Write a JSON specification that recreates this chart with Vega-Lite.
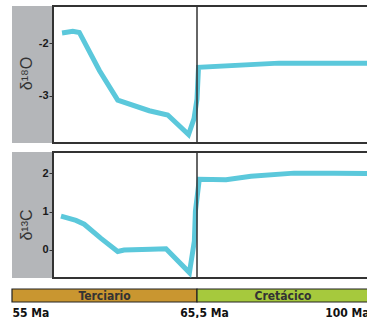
{
  "$schema": "https://vega.github.io/schema/vega-lite/v6.json",
  "padding": {"left": 11, "top": 5, "right": 0, "bottom": 0},
  "background": "white",
  "spacing": 9,
  "config": {
    "view": {"stroke": "#333333", "strokeWidth": 2},
    "axis": {"grid": false, "domain": false, "title": null, "labelFont": "Liberation Sans", "labelFontWeight": "bold", "labelColor": "#1a1a1a", "tickColor": "#333333"}
  },
  "vconcat": [
    {
      "vconcat": [
        {
          "hconcat": [
            {
              "width": 41, "height": 137,
              "view": {"fill": "#b4b6b9"},
              "data": {"values": [{"label": "δ¹⁸O"}]},
              "mark": {"type": "text", "angle": 270, "fontSize": 16, "font": "Liberation Sans", "color": "#333333", "dy": -6, "dx": 1, "clip": true},
              "encoding": {"text": {"field": "label"}}
            },
            {
              "width": 316, "height": 137,
              "layer": [
                {
                  "data": {"values": [
                    {"age": 57.84, "d18O": -1.81},
                    {"age": 58.45, "d18O": -1.78},
                    {"age": 58.82, "d18O": -1.80},
                    {"age": 59.96, "d18O": -2.52},
                    {"age": 61.0, "d18O": -3.08},
                    {"age": 62.79, "d18O": -3.28},
                    {"age": 63.84, "d18O": -3.36},
                    {"age": 65.02, "d18O": -3.73},
                    {"age": 65.33, "d18O": -3.43},
                    {"age": 65.5, "d18O": -3.06},
                    {"age": 65.8, "d18O": -2.46},
                    {"age": 81.95, "d18O": -2.38},
                    {"age": 100, "d18O": -2.38}
                  ]},
                  "mark": {"type": "line", "color": "#5bc8db", "strokeWidth": 5, "clip": true},
                  "encoding": {
                    "x": {"field": "age", "type": "quantitative", "axis": null, "scale": {"domain": [55, 65.5, 100], "range": [-41, 144, 316], "nice": false, "zero": false}},
                    "y": {"field": "d18O", "type": "quantitative", "scale": {"domain": [-3.89, -1.3], "nice": false, "zero": false}, "axis": {"values": [-3, -2], "tickSize": 4, "labelPadding": 1, "labelFontSize": 11, "labelExpr": "datum.value + ''"}}
                  }
                },
                {
                  "data": {"values": [{"boundary": 65.5}]},
                  "mark": {"type": "rule", "color": "#333333", "strokeWidth": 1.5, "clip": true},
                  "encoding": {"x": {"field": "boundary", "type": "quantitative", "axis": null}}
                }
              ]
            }
          ],
          "spacing": 0,
          "bounds": "flush"
        },
        {
          "hconcat": [
            {
              "width": 41, "height": 126,
              "view": {"fill": "#b4b6b9"},
              "data": {"values": [{"label": "δ¹³C"}]},
              "mark": {"type": "text", "angle": 270, "fontSize": 16, "font": "Liberation Sans", "color": "#333333", "dy": -6, "dx": -10, "clip": true},
              "encoding": {"text": {"field": "label"}}
            },
            {
              "width": 316, "height": 126,
              "layer": [
                {
                  "data": {"values": [
                    {"age": 57.78, "d13C": 0.88},
                    {"age": 58.63, "d13C": 0.77},
                    {"age": 59.1, "d13C": 0.67},
                    {"age": 60.05, "d13C": 0.3},
                    {"age": 61.0, "d13C": -0.04},
                    {"age": 61.36, "d13C": 0.0},
                    {"age": 62.89, "d13C": 0.02},
                    {"age": 63.74, "d13C": 0.03},
                    {"age": 65.07, "d13C": -0.59},
                    {"age": 65.35, "d13C": 0.23},
                    {"age": 65.41, "d13C": 1.01},
                    {"age": 65.96, "d13C": 1.84},
                    {"age": 71.32, "d13C": 1.83},
                    {"age": 76.33, "d13C": 1.92},
                    {"age": 84.96, "d13C": 2.0},
                    {"age": 92.98, "d13C": 2.0},
                    {"age": 100, "d13C": 1.99}
                  ]},
                  "mark": {"type": "line", "color": "#5bc8db", "strokeWidth": 5, "clip": true},
                  "encoding": {
                    "x": {"field": "age", "type": "quantitative", "axis": null, "scale": {"domain": [55, 65.5, 100], "range": [-41, 144, 316], "nice": false, "zero": false}},
                    "y": {"field": "d13C", "type": "quantitative", "scale": {"domain": [-0.73, 2.55], "nice": false, "zero": false}, "axis": {"values": [0, 1, 2], "tickSize": 4, "labelPadding": 1, "labelFontSize": 11, "labelExpr": "datum.value + ''"}}
                  }
                },
                {
                  "data": {"values": [{"boundary": 65.5}]},
                  "mark": {"type": "rule", "color": "#333333", "strokeWidth": 1.5, "clip": true},
                  "encoding": {"x": {"field": "boundary", "type": "quantitative", "axis": null}}
                }
              ]
            }
          ],
          "spacing": 0,
          "bounds": "flush"
        }
      ],
      "spacing": 7
    },
    {
      "width": 357, "height": 13,
      "view": {"stroke": null},
      "data": {"values": [
        {"period": "Terciario", "start": 55, "end": 65.5},
        {"period": "Cretácico", "start": 65.5, "end": 100}
      ]},
      "encoding": {
        "x": {"field": "start", "type": "quantitative", "scale": {"domain": [55, 65.5, 100], "range": [0, 185, 357], "nice": false, "zero": false},
          "axis": {"values": [55, 65.5, 100], "labelFlush": true, "tickSize": 0, "labelPadding": 5, "labelFontSize": 12, "labelOffset": {"condition": {"test": "datum.value == 65.5", "value": 7}, "value": 0}, "labelFont": "Liberation Sans Narrow, DejaVu Sans Condensed, sans-serif", "labelColor": "#111111", "labelExpr": "replace(datum.value + '', '.', ',') + ' Ma'"}}
      },
      "layer": [
        {
          "mark": {"type": "rect", "stroke": "#222222", "strokeWidth": 1.2},
          "encoding": {
            "x2": {"field": "end"},
            "color": {"field": "period", "type": "nominal", "legend": null, "scale": {"domain": ["Terciario", "Cretácico"], "range": ["#c99630", "#a6c93d"]}}
          }
        },
        {
          "transform": [{"fold": ["start", "end"], "as": ["edge", "pos"]}],
          "mark": {"type": "text", "fontSize": 12, "fontWeight": "bold", "font": "Liberation Sans Narrow, DejaVu Sans Condensed, sans-serif", "color": "#333333", "baseline": "middle"},
          "encoding": {
            "x": {"aggregate": "mean", "field": "pos", "type": "quantitative"},
            "text": {"field": "period", "type": "nominal"}
          }
        }
      ]
    }
  ]
}
